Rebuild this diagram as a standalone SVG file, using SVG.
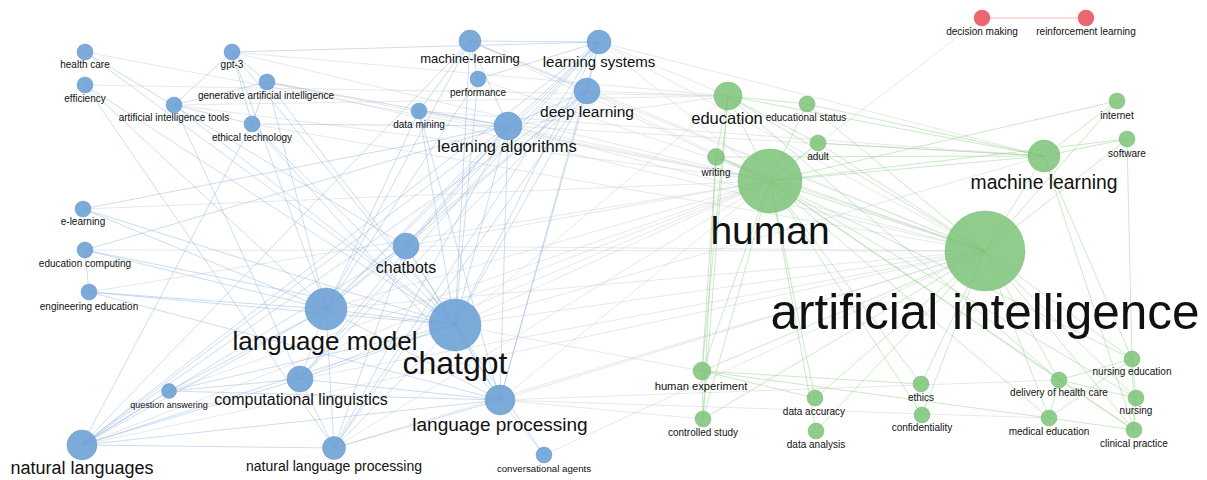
<svg xmlns="http://www.w3.org/2000/svg" width="1207" height="480" viewBox="0 0 1207 480">
<style>
.eb{stroke:#8db4dd;stroke-opacity:.45;stroke-width:1;fill:none}
.ex{stroke:#c9cdd2;stroke-opacity:.45;stroke-width:1;fill:none}
.eg{stroke:#8ccf86;stroke-opacity:.45;stroke-width:1;fill:none}
.er{stroke:#f0a0a5;stroke-opacity:.7;stroke-width:1;fill:none}
.nb{fill:#6ea1d5;fill-opacity:.9;stroke:#5a8ec5;stroke-opacity:.5;stroke-width:.8}
.ng{fill:#7cc378;fill-opacity:.85;stroke:#69b265;stroke-opacity:.5;stroke-width:.8}
.nr{fill:#ea5f68;fill-opacity:.95;stroke:#d9535b;stroke-opacity:.5;stroke-width:.8}
text{font-family:"Liberation Sans",Arial,sans-serif;text-anchor:middle;fill:#111111}
</style>
<rect width="1207" height="480" fill="#ffffff"/>
<g id="connectors">
<!-- gray cross-cluster -->
<line class="ex" x1="455" y1="325" x2="985" y2="251"/>
<line class="ex" x1="455" y1="325" x2="770" y2="181"/>
<line class="ex" x1="455" y1="325" x2="728" y2="96"/>
<line class="ex" x1="455" y1="325" x2="1044" y2="156"/>
<line class="ex" x1="455" y1="325" x2="702" y2="371"/>
<line class="ex" x1="326" y1="309" x2="985" y2="251"/>
<line class="ex" x1="326" y1="309" x2="770" y2="181"/>
<line class="ex" x1="508" y1="126" x2="985" y2="251"/>
<line class="ex" x1="508" y1="126" x2="770" y2="181"/>
<line class="ex" x1="508" y1="126" x2="1044" y2="156"/>
<line class="ex" x1="508" y1="126" x2="728" y2="96"/>
<line class="ex" x1="587" y1="91" x2="985" y2="251"/>
<line class="ex" x1="587" y1="91" x2="770" y2="181"/>
<line class="ex" x1="587" y1="91" x2="728" y2="96"/>
<line class="ex" x1="599" y1="42" x2="1044" y2="156"/>
<line class="ex" x1="599" y1="42" x2="985" y2="251"/>
<line class="ex" x1="599" y1="42" x2="770" y2="181"/>
<line class="ex" x1="599" y1="42" x2="728" y2="96"/>
<line class="ex" x1="470" y1="41" x2="770" y2="181"/>
<line class="ex" x1="470" y1="41" x2="985" y2="251"/>
<line class="ex" x1="232" y1="52" x2="728" y2="96"/>
<line class="ex" x1="232" y1="52" x2="770" y2="181"/>
<line class="ex" x1="267" y1="82" x2="985" y2="251"/>
<line class="ex" x1="267" y1="82" x2="770" y2="181"/>
<line class="ex" x1="174" y1="105" x2="770" y2="181"/>
<line class="ex" x1="174" y1="105" x2="728" y2="96"/>
<line class="ex" x1="252" y1="124" x2="985" y2="251"/>
<line class="ex" x1="406" y1="246" x2="770" y2="181"/>
<line class="ex" x1="406" y1="246" x2="985" y2="251"/>
<line class="ex" x1="500" y1="400" x2="985" y2="251"/>
<line class="ex" x1="500" y1="400" x2="770" y2="181"/>
<line class="ex" x1="500" y1="400" x2="1049" y2="418"/>
<line class="ex" x1="500" y1="400" x2="703" y2="419"/>
<line class="ex" x1="500" y1="400" x2="1059" y2="380"/>
<line class="ex" x1="82" y1="445" x2="985" y2="251"/>
<line class="ex" x1="82" y1="445" x2="770" y2="181"/>
<line class="ex" x1="300" y1="379" x2="985" y2="251"/>
<line class="ex" x1="300" y1="379" x2="770" y2="181"/>
<line class="ex" x1="83" y1="209" x2="770" y2="181"/>
<line class="ex" x1="85" y1="250" x2="985" y2="251"/>
<line class="ex" x1="85" y1="52" x2="770" y2="181"/>
<line class="ex" x1="85" y1="85" x2="728" y2="96"/>
<line class="ex" x1="419" y1="111" x2="1044" y2="156"/>
<line class="ex" x1="478" y1="79" x2="985" y2="251"/>
<line class="ex" x1="544" y1="455" x2="985" y2="251"/>
<line class="ex" x1="334" y1="448" x2="985" y2="251"/>
<line class="ex" x1="334" y1="448" x2="770" y2="181"/>
<line class="ex" x1="169" y1="391" x2="770" y2="181"/>
<line class="ex" x1="89" y1="292" x2="770" y2="181"/>
<line class="ex" x1="982" y1="18" x2="770" y2="181" stroke-opacity=".3"/>
<!-- blue cluster -->
<line class="eb" x1="455" y1="325" x2="326" y2="309" stroke-width="4"/>
<line class="eb" x1="455" y1="325" x2="406" y2="246"/>
<line class="eb" x1="455" y1="325" x2="500" y2="400" stroke-width="2"/>
<line class="eb" x1="455" y1="325" x2="300" y2="379" stroke-width="1.5"/>
<line class="eb" x1="455" y1="325" x2="82" y2="445" stroke-width="2"/>
<line class="eb" x1="455" y1="325" x2="334" y2="448"/>
<line class="eb" x1="455" y1="325" x2="508" y2="126" stroke-width="2"/>
<line class="eb" x1="455" y1="325" x2="587" y2="91"/>
<line class="eb" x1="455" y1="325" x2="599" y2="42"/>
<line class="eb" x1="455" y1="325" x2="470" y2="41"/>
<line class="eb" x1="455" y1="325" x2="419" y2="111"/>
<line class="eb" x1="455" y1="325" x2="478" y2="79"/>
<line class="eb" x1="455" y1="325" x2="232" y2="52"/>
<line class="eb" x1="455" y1="325" x2="267" y2="82"/>
<line class="eb" x1="455" y1="325" x2="174" y2="105"/>
<line class="eb" x1="455" y1="325" x2="252" y2="124"/>
<line class="eb" x1="455" y1="325" x2="85" y2="52"/>
<line class="eb" x1="455" y1="325" x2="85" y2="85"/>
<line class="eb" x1="455" y1="325" x2="83" y2="209"/>
<line class="eb" x1="455" y1="325" x2="85" y2="250"/>
<line class="eb" x1="455" y1="325" x2="89" y2="292"/>
<line class="eb" x1="455" y1="325" x2="169" y2="391"/>
<line class="eb" x1="455" y1="325" x2="544" y2="455"/>
<line class="eb" x1="326" y1="309" x2="508" y2="126" stroke-width="2"/>
<line class="eb" x1="326" y1="309" x2="587" y2="91"/>
<line class="eb" x1="326" y1="309" x2="599" y2="42"/>
<line class="eb" x1="326" y1="309" x2="470" y2="41"/>
<line class="eb" x1="326" y1="309" x2="406" y2="246"/>
<line class="eb" x1="326" y1="309" x2="82" y2="445" stroke-width="2"/>
<line class="eb" x1="326" y1="309" x2="300" y2="379" stroke-width="2"/>
<line class="eb" x1="326" y1="309" x2="500" y2="400"/>
<line class="eb" x1="326" y1="309" x2="334" y2="448"/>
<line class="eb" x1="326" y1="309" x2="85" y2="250"/>
<line class="eb" x1="326" y1="309" x2="89" y2="292"/>
<line class="eb" x1="326" y1="309" x2="83" y2="209"/>
<line class="eb" x1="326" y1="309" x2="419" y2="111"/>
<line class="eb" x1="326" y1="309" x2="169" y2="391"/>
<line class="eb" x1="326" y1="309" x2="478" y2="79"/>
<line class="eb" x1="326" y1="309" x2="232" y2="52"/>
<line class="eb" x1="326" y1="309" x2="267" y2="82"/>
<line class="eb" x1="326" y1="309" x2="85" y2="85"/>
<line class="eb" x1="508" y1="126" x2="82" y2="445"/>
<line class="eb" x1="508" y1="126" x2="500" y2="400"/>
<line class="eb" x1="508" y1="126" x2="300" y2="379"/>
<line class="eb" x1="508" y1="126" x2="406" y2="246"/>
<line class="eb" x1="508" y1="126" x2="599" y2="42"/>
<line class="eb" x1="508" y1="126" x2="587" y2="91"/>
<line class="eb" x1="508" y1="126" x2="334" y2="448"/>
<line class="eb" x1="508" y1="126" x2="470" y2="41"/>
<line class="eb" x1="508" y1="126" x2="419" y2="111"/>
<line class="eb" x1="508" y1="126" x2="83" y2="209"/>
<line class="eb" x1="508" y1="126" x2="85" y2="250"/>
<line class="eb" x1="508" y1="126" x2="267" y2="82"/>
<line class="eb" x1="508" y1="126" x2="252" y2="124"/>
<line class="eb" x1="82" y1="445" x2="500" y2="400"/>
<line class="eb" x1="82" y1="445" x2="334" y2="448"/>
<line class="eb" x1="82" y1="445" x2="300" y2="379"/>
<line class="eb" x1="82" y1="445" x2="169" y2="391"/>
<line class="eb" x1="82" y1="445" x2="599" y2="42"/>
<line class="eb" x1="82" y1="445" x2="587" y2="91"/>
<line class="eb" x1="82" y1="445" x2="406" y2="246"/>
<line class="eb" x1="82" y1="445" x2="470" y2="41"/>
<line class="eb" x1="82" y1="445" x2="252" y2="124"/>
<line class="eb" x1="599" y1="42" x2="470" y2="41"/>
<line class="eb" x1="599" y1="42" x2="587" y2="91"/>
<line class="eb" x1="599" y1="42" x2="300" y2="379"/>
<line class="eb" x1="599" y1="42" x2="334" y2="448"/>
<line class="eb" x1="599" y1="42" x2="500" y2="400"/>
<line class="eb" x1="599" y1="42" x2="406" y2="246"/>
<line class="eb" x1="599" y1="42" x2="232" y2="52"/>
<line class="eb" x1="599" y1="42" x2="478" y2="79"/>
<line class="eb" x1="587" y1="91" x2="500" y2="400"/>
<line class="eb" x1="587" y1="91" x2="300" y2="379"/>
<line class="eb" x1="587" y1="91" x2="406" y2="246"/>
<line class="eb" x1="587" y1="91" x2="334" y2="448"/>
<line class="eb" x1="587" y1="91" x2="470" y2="41"/>
<line class="eb" x1="232" y1="52" x2="267" y2="82"/>
<line class="eb" x1="232" y1="52" x2="174" y2="105"/>
<line class="eb" x1="232" y1="52" x2="252" y2="124"/>
<line class="eb" x1="267" y1="82" x2="174" y2="105"/>
<line class="eb" x1="267" y1="82" x2="252" y2="124"/>
<line class="eb" x1="174" y1="105" x2="252" y2="124"/>
<line class="eb" x1="174" y1="105" x2="300" y2="379"/>
<line class="eb" x1="85" y1="52" x2="406" y2="246"/>
<line class="eb" x1="85" y1="85" x2="334" y2="448"/>
<line class="eb" x1="85" y1="250" x2="89" y2="292"/>
<line class="eb" x1="406" y1="246" x2="500" y2="400"/>
<line class="eb" x1="406" y1="246" x2="334" y2="448"/>
<line class="eb" x1="300" y1="379" x2="500" y2="400"/>
<line class="eb" x1="300" y1="379" x2="334" y2="448"/>
<line class="eb" x1="300" y1="379" x2="169" y2="391"/>
<line class="eb" x1="169" y1="391" x2="500" y2="400"/>
<line class="eb" x1="334" y1="448" x2="500" y2="400"/>
<line class="eb" x1="500" y1="400" x2="544" y2="455"/>
<line class="eb" x1="470" y1="41" x2="478" y2="79"/>
<line class="eb" x1="470" y1="41" x2="419" y2="111"/>
<line class="eb" x1="419" y1="111" x2="500" y2="400"/>
<line class="eb" x1="252" y1="124" x2="500" y2="400"/>
<line class="eb" x1="89" y1="292" x2="500" y2="400"/>
<!-- green cluster -->
<line class="eg" x1="985" y1="251" x2="770" y2="181" stroke-width="8" stroke-opacity=".45"/>
<line class="eg" x1="985" y1="251" x2="1044" y2="156" stroke-width="2"/>
<line class="eg" x1="985" y1="251" x2="728" y2="96" stroke-width="2"/>
<line class="eg" x1="985" y1="251" x2="807" y2="104"/>
<line class="eg" x1="985" y1="251" x2="818" y2="143"/>
<line class="eg" x1="985" y1="251" x2="716" y2="157"/>
<line class="eg" x1="985" y1="251" x2="1117" y2="101"/>
<line class="eg" x1="985" y1="251" x2="1127" y2="139"/>
<line class="eg" x1="985" y1="251" x2="702" y2="371" stroke-width="1.5"/>
<line class="eg" x1="985" y1="251" x2="703" y2="419"/>
<line class="eg" x1="985" y1="251" x2="815" y2="398"/>
<line class="eg" x1="985" y1="251" x2="816" y2="431"/>
<line class="eg" x1="985" y1="251" x2="921" y2="384"/>
<line class="eg" x1="985" y1="251" x2="922" y2="415"/>
<line class="eg" x1="985" y1="251" x2="1059" y2="380"/>
<line class="eg" x1="985" y1="251" x2="1049" y2="418"/>
<line class="eg" x1="985" y1="251" x2="1132" y2="359"/>
<line class="eg" x1="985" y1="251" x2="1136" y2="398"/>
<line class="eg" x1="985" y1="251" x2="1134" y2="430"/>
<line class="eg" x1="770" y1="181" x2="728" y2="96" stroke-width="2"/>
<line class="eg" x1="770" y1="181" x2="807" y2="104"/>
<line class="eg" x1="770" y1="181" x2="818" y2="143"/>
<line class="eg" x1="770" y1="181" x2="716" y2="157"/>
<line class="eg" x1="770" y1="181" x2="1044" y2="156" stroke-width="2"/>
<line class="eg" x1="770" y1="181" x2="1117" y2="101"/>
<line class="eg" x1="770" y1="181" x2="1127" y2="139"/>
<line class="eg" x1="770" y1="181" x2="702" y2="371" stroke-width="1.5"/>
<line class="eg" x1="770" y1="181" x2="703" y2="419"/>
<line class="eg" x1="770" y1="181" x2="815" y2="398"/>
<line class="eg" x1="770" y1="181" x2="816" y2="431"/>
<line class="eg" x1="770" y1="181" x2="921" y2="384"/>
<line class="eg" x1="770" y1="181" x2="922" y2="415"/>
<line class="eg" x1="770" y1="181" x2="1059" y2="380"/>
<line class="eg" x1="770" y1="181" x2="1049" y2="418"/>
<line class="eg" x1="770" y1="181" x2="1132" y2="359"/>
<line class="eg" x1="770" y1="181" x2="1136" y2="398"/>
<line class="eg" x1="770" y1="181" x2="1134" y2="430"/>
<line class="eg" x1="1044" y1="156" x2="1117" y2="101"/>
<line class="eg" x1="1044" y1="156" x2="1127" y2="139"/>
<line class="eg" x1="1044" y1="156" x2="728" y2="96"/>
<line class="eg" x1="1044" y1="156" x2="807" y2="104"/>
<line class="eg" x1="1044" y1="156" x2="818" y2="143"/>
<line class="eg" x1="1044" y1="156" x2="716" y2="157"/>
<line class="eg" x1="1044" y1="156" x2="1134" y2="430"/>
<line class="eg" x1="1044" y1="156" x2="1132" y2="359"/>
<line class="eg" x1="728" y1="96" x2="716" y2="157"/>
<line class="eg" x1="728" y1="96" x2="807" y2="104"/>
<line class="eg" x1="728" y1="96" x2="818" y2="143"/>
<line class="eg" x1="728" y1="96" x2="702" y2="371"/>
<line class="eg" x1="728" y1="96" x2="703" y2="419"/>
<line class="eg" x1="728" y1="96" x2="1059" y2="380"/>
<line class="eg" x1="702" y1="371" x2="703" y2="419"/>
<line class="eg" x1="702" y1="371" x2="921" y2="384"/>
<line class="eg" x1="702" y1="371" x2="1049" y2="418"/>
<line class="eg" x1="702" y1="371" x2="815" y2="398"/>
<line class="eg" x1="716" y1="157" x2="703" y2="419"/>
<line class="eg" x1="716" y1="157" x2="702" y2="371"/>
<line class="eg" x1="1059" y1="380" x2="1132" y2="359"/>
<line class="eg" x1="1059" y1="380" x2="1136" y2="398"/>
<line class="eg" x1="1059" y1="380" x2="1134" y2="430"/>
<line class="eg" x1="1132" y1="359" x2="1136" y2="398"/>
<line class="eg" x1="1132" y1="359" x2="1134" y2="430"/>
<line class="eg" x1="1136" y1="398" x2="1134" y2="430"/>
<line class="eg" x1="1049" y1="418" x2="1059" y2="380"/>
<line class="eg" x1="1049" y1="418" x2="1134" y2="430"/>
<line class="eg" x1="1049" y1="418" x2="1132" y2="359"/>
<line class="eg" x1="1127" y1="139" x2="1132" y2="359"/>
<!-- red cluster -->
<line class="er" x1="982" y1="18" x2="1086" y2="18"/>
</g>
<g id="n-health-care"><circle class="nb" cx="85" cy="52" r="8"/><text x="85" y="68" font-size="10">health care</text></g>
<g id="n-efficiency"><circle class="nb" cx="85" cy="85" r="8"/><text x="85" y="102" font-size="10">efficiency</text></g>
<g id="n-gpt-3"><circle class="nb" cx="232" cy="52" r="8"/><text x="232" y="68" font-size="10">gpt-3</text></g>
<g id="n-generative-ai"><circle class="nb" cx="267" cy="82" r="8"/><text x="266" y="99" font-size="10">generative artificial intelligence</text></g>
<g id="n-ai-tools"><circle class="nb" cx="174" cy="105" r="8"/><text x="174" y="121" font-size="10">artificial intelligence tools</text></g>
<g id="n-ethical-technology"><circle class="nb" cx="252" cy="124" r="8"/><text x="252" y="141" font-size="10">ethical technology</text></g>
<g id="n-machine-learning-h"><circle class="nb" cx="470" cy="41" r="11"/><text x="470" y="63" font-size="13">machine-learning</text></g>
<g id="n-performance"><circle class="nb" cx="478" cy="79" r="8"/><text x="478" y="96" font-size="10">performance</text></g>
<g id="n-data-mining"><circle class="nb" cx="419" cy="111" r="8"/><text x="419" y="128" font-size="10">data mining</text></g>
<g id="n-learning-systems"><circle class="nb" cx="599" cy="42" r="12"/><text x="599" y="67" font-size="15">learning systems</text></g>
<g id="n-deep-learning"><circle class="nb" cx="587" cy="91" r="13"/><text x="587" y="117" font-size="15.5">deep learning</text></g>
<g id="n-learning-algorithms"><circle class="nb" cx="508" cy="126" r="14"/><text x="507" y="152" font-size="16.5">learning algorithms</text></g>
<g id="n-e-learning"><circle class="nb" cx="83" cy="209" r="8"/><text x="83" y="225" font-size="10">e-learning</text></g>
<g id="n-education-computing"><circle class="nb" cx="85" cy="250" r="8"/><text x="85" y="267" font-size="10">education computing</text></g>
<g id="n-engineering-education"><circle class="nb" cx="89" cy="292" r="8"/><text x="89" y="310" font-size="10">engineering education</text></g>
<g id="n-chatbots"><circle class="nb" cx="406" cy="246" r="13"/><text x="406" y="273" font-size="16">chatbots</text></g>
<g id="n-language-model"><circle class="nb" cx="326" cy="309" r="21"/><text x="325" y="350" font-size="26">language model</text></g>
<g id="n-chatgpt"><circle class="nb" cx="455" cy="325" r="26" fill-opacity=".85"/><text x="455" y="374" font-size="32">chatgpt</text></g>
<g id="n-computational-linguistics"><circle class="nb" cx="300" cy="379" r="13"/><text x="301" y="405" font-size="16">computational linguistics</text></g>
<g id="n-question-answering"><circle class="nb" cx="169" cy="391" r="7.5"/><text x="169" y="408" font-size="9">question answering</text></g>
<g id="n-language-processing"><circle class="nb" cx="500" cy="400" r="15"/><text x="500" y="431" font-size="19">language processing</text></g>
<g id="n-natural-languages"><circle class="nb" cx="82" cy="445" r="15"/><text x="82" y="474" font-size="18">natural languages</text></g>
<g id="n-natural-language-processing"><circle class="nb" cx="334" cy="448" r="11.5"/><text x="334" y="471" font-size="14">natural language processing</text></g>
<g id="n-conversational-agents"><circle class="nb" cx="544" cy="455" r="8"/><text x="544" y="472" font-size="9.7">conversational agents</text></g>
<g id="n-education"><circle class="ng" cx="728" cy="96" r="14"/><text x="727" y="124" font-size="16.5">education</text></g>
<g id="n-educational-status"><circle class="ng" cx="807" cy="104" r="8"/><text x="806" y="121" font-size="10">educational status</text></g>
<g id="n-adult"><circle class="ng" cx="818" cy="143" r="8"/><text x="818" y="160" font-size="10">adult</text></g>
<g id="n-writing"><circle class="ng" cx="716" cy="157" r="8.5"/><text x="716" y="176" font-size="10">writing</text></g>
<g id="n-human"><circle class="ng" cx="770" cy="181" r="32" fill-opacity=".8"/><text x="770" y="244" font-size="39">human</text></g>
<g id="n-machine-learning"><circle class="ng" cx="1044" cy="156" r="16"/><text x="1044" y="189" font-size="19.3">machine learning</text></g>
<g id="n-internet"><circle class="ng" cx="1117" cy="101" r="8"/><text x="1117" y="119" font-size="10">internet</text></g>
<g id="n-software"><circle class="ng" cx="1127" cy="139" r="8"/><text x="1127" y="157" font-size="10">software</text></g>
<g id="n-artificial-intelligence"><circle class="ng" cx="985" cy="251" r="40" fill-opacity=".8"/><text x="985" y="329" font-size="49.5">artificial intelligence</text></g>
<g id="n-human-experiment"><circle class="ng" cx="702" cy="371" r="9"/><text x="701" y="390" font-size="11.2">human experiment</text></g>
<g id="n-controlled-study"><circle class="ng" cx="703" cy="419" r="8"/><text x="703" y="436" font-size="10">controlled study</text></g>
<g id="n-data-accuracy"><circle class="ng" cx="815" cy="398" r="8"/><text x="814" y="415" font-size="10">data accuracy</text></g>
<g id="n-data-analysis"><circle class="ng" cx="816" cy="431" r="8"/><text x="816" y="448" font-size="10">data analysis</text></g>
<g id="n-ethics"><circle class="ng" cx="921" cy="384" r="8"/><text x="921" y="401" font-size="10">ethics</text></g>
<g id="n-confidentiality"><circle class="ng" cx="922" cy="415" r="8"/><text x="922" y="431" font-size="10">confidentiality</text></g>
<g id="n-delivery-of-health-care"><circle class="ng" cx="1059" cy="380" r="8"/><text x="1059" y="396" font-size="10">delivery of health care</text></g>
<g id="n-medical-education"><circle class="ng" cx="1049" cy="418" r="8"/><text x="1049" y="435" font-size="10">medical education</text></g>
<g id="n-nursing-education"><circle class="ng" cx="1132" cy="359" r="8"/><text x="1132" y="375" font-size="10">nursing education</text></g>
<g id="n-nursing"><circle class="ng" cx="1136" cy="398" r="8"/><text x="1136" y="414" font-size="10">nursing</text></g>
<g id="n-clinical-practice"><circle class="ng" cx="1134" cy="430" r="8"/><text x="1134" y="447" font-size="10">clinical practice</text></g>
<g id="n-decision-making"><circle class="nr" cx="982" cy="18" r="8"/><text x="982" y="35" font-size="10">decision making</text></g>
<g id="n-reinforcement-learning"><circle class="nr" cx="1086" cy="18" r="8"/><text x="1086" y="35" font-size="10">reinforcement learning</text></g>
</svg>
